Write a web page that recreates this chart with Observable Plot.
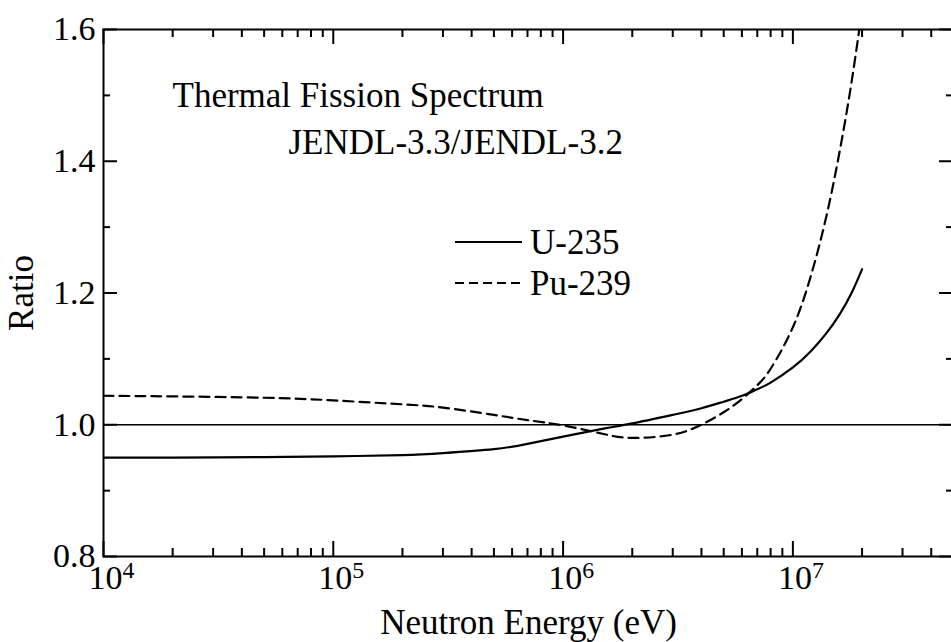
<!DOCTYPE html>
<html><head><meta charset="utf-8">
<script src="https://cdn.jsdelivr.net/npm/d3@7"></script>
<script src="https://cdn.jsdelivr.net/npm/@observablehq/plot@0.6"></script>
<style>
body{margin:0;background:#fff;}
#wrap{position:relative;width:951px;height:642px;overflow:hidden;}
#legend{position:absolute;left:0;top:0;}
</style></head><body><div id="wrap"></div>
<script>
// ---- data ----
const energy = [1e4, 2e4, 5e4, 1e5, 2e5, 3e5, 5e5, 7e5, 1e6, 1.5e6, 2e6, 3e6, 4e6, 5e6, 6e6, 7e6, 8e6, 1e7, 1.2e7, 1.4e7, 1.6e7, 1.8e7, 2e7];
const u235  = [0.950, 0.950, 0.951, 0.952, 0.954, 0.957, 0.963, 0.971, 0.982, 0.994, 1.002, 1.015, 1.025, 1.035, 1.044, 1.054, 1.064, 1.087, 1.112, 1.139, 1.168, 1.200, 1.236];
const pu239 = [1.044, 1.043, 1.041, 1.037, 1.031, 1.026, 1.015, 1.007, 0.999, 0.986, 0.980, 0.985, 1.000, 1.019, 1.039, 1.060, 1.085, 1.148, 1.227, 1.317, 1.416, 1.520, 1.630];
const seriesNames = ["U-235", "Pu-239"];
const titleLines = ["Thermal Fission Spectrum", "JENDL-3.3/JENDL-3.2"];
const xMajorTicks = [1e4, 1e5, 1e6, 1e7];
const xMinorTicks = [2e4,3e4,4e4,5e4,6e4,7e4,8e4,9e4, 2e5,3e5,4e5,5e5,6e5,7e5,8e5,9e5, 2e6,3e6,4e6,5e6,6e6,7e6,8e6,9e6, 2e7,3e7,4e7];
const yMajorTicks = [0.8, 1.0, 1.2, 1.4, 1.6];
const yMinorTicks = [0.9, 1.1, 1.3, 1.5];
const xDomain = [1e4, 5e7];
const yDomain = [0.8, 1.6];
const xLabel = "Neutron Energy (eV)";
const yLabel = "Ratio";

// ---- layout ----
const W = 951, H = 642;
const mL = 103, mT = 29, mB = 86, mR = -2;
const PW = W - mL - mR, PH = H - mT - mB;
const FONT = "'Liberation Serif', 'Times New Roman', serif";

const rowsU = energy.map((e, i) => ({E: e, r: u235[i]}));
const rowsP = energy.map((e, i) => ({E: e, r: pu239[i]}));

const chart = Plot.plot({
  width: W, height: H,
  marginLeft: mL, marginTop: mT, marginBottom: mB, marginRight: mR,
  style: {fontFamily: FONT, fontSize: "34px", color: "#000", background: "#fff", overflow: "visible"},
  x: {type: "log", domain: xDomain},
  y: {domain: yDomain},
  marks: [
    Plot.ruleY([1], {stroke: "#000", strokeWidth: 1.5}),
    Plot.line(rowsU, {x: "E", y: "r", curve: "natural", stroke: "#000", strokeWidth: 2.2, clip: true}),
    Plot.line(rowsP, {x: "E", y: "r", curve: "natural", stroke: "#000", strokeWidth: 2.2, strokeDasharray: "10,6", clip: true}),
    Plot.frame({stroke: "#000", strokeWidth: 2}),
    // inward ticks, left / right
    Plot.tickY(yMajorTicks, {y: d => d, stroke: "#000", strokeWidth: 2, insetRight: PW - 14}),
    Plot.tickY(yMinorTicks, {y: d => d, stroke: "#000", strokeWidth: 2, insetRight: PW - 7}),
    Plot.tickY(yMajorTicks, {y: d => d, stroke: "#000", strokeWidth: 2, insetLeft: PW - 14}),
    Plot.tickY(yMinorTicks, {y: d => d, stroke: "#000", strokeWidth: 2, insetLeft: PW - 7}),
    // inward ticks, top / bottom
    Plot.tickX(xMajorTicks, {x: d => d, stroke: "#000", strokeWidth: 2, insetBottom: PH - 15}),
    Plot.tickX(xMinorTicks, {x: d => d, stroke: "#000", strokeWidth: 2, insetBottom: PH - 8}),
    Plot.tickX(xMajorTicks, {x: d => d, stroke: "#000", strokeWidth: 2, insetTop: PH - 15}),
    Plot.tickX(xMinorTicks, {x: d => d, stroke: "#000", strokeWidth: 2, insetTop: PH - 8}),
    Plot.axisY(yMajorTicks, {tickSize: 0, tickPadding: 8, tickFormat: d => d.toFixed(1), fontSize: 34,
      label: yLabel, labelAnchor: "center", labelOffset: 95, labelArrow: false}),
    Plot.axisX(xMajorTicks, {tickSize: 0, tickPadding: 8, tickFormat: d => "10^" + Math.round(Math.log10(d)), fontSize: 34,
      label: xLabel, labelAnchor: "center", labelOffset: 77, labelArrow: false}),
    Plot.text([titleLines[0]], {frameAnchor: "top-left", text: d => d, dx: 69, dy: 53, textAnchor: "start", fontSize: 35}),
    Plot.text([titleLines[1]], {frameAnchor: "top-left", text: d => d, dx: 185, dy: 100, textAnchor: "start", fontSize: 35})
  ]
});

const wrap = document.getElementById("wrap");
wrap.appendChild(chart);

// axis titles a touch larger
chart.querySelectorAll('g[aria-label="x-axis label"] text, g[aria-label="y-axis label"] text').forEach(t => t.setAttribute("font-size", 35));

// superscript exponents on x tick labels
const ns = "http://www.w3.org/2000/svg";
chart.querySelectorAll('g[aria-label="x-axis tick label"] text').forEach(t => {
  const s = t.textContent;
  const m = s.match(/^10\^(-?\d+)$/);
  if (!m) return;
  t.textContent = "";
  const a = document.createElementNS(ns, "tspan"); a.textContent = "10";
  const b = document.createElementNS(ns, "tspan"); b.textContent = m[1];
  b.setAttribute("dy", "-0.45em"); b.setAttribute("font-size", "0.7em");
  t.appendChild(a); t.appendChild(b);
  t.setAttribute("dx", "8");
});

// legend (inside the plot area)
const leg = document.createElementNS(ns, "svg");
leg.setAttribute("id", "legend");
leg.setAttribute("width", W); leg.setAttribute("height", H);
leg.style.fontFamily = FONT;
const dashes = [null, "9,5"];
seriesNames.forEach((name, i) => {
  const cy = 242 + i * 41;
  const ln = document.createElementNS(ns, "line");
  ln.setAttribute("x1", 455); ln.setAttribute("x2", 522);
  ln.setAttribute("y1", cy); ln.setAttribute("y2", cy);
  ln.setAttribute("stroke", "#000"); ln.setAttribute("stroke-width", 2);
  if (dashes[i]) ln.setAttribute("stroke-dasharray", dashes[i]);
  leg.appendChild(ln);
  const tx = document.createElementNS(ns, "text");
  tx.setAttribute("x", 530); tx.setAttribute("y", cy);
  tx.setAttribute("dy", "0.35em");
  tx.setAttribute("font-size", 35);
  tx.textContent = name;
  leg.appendChild(tx);
});
wrap.appendChild(leg);
</script>
</body></html>
